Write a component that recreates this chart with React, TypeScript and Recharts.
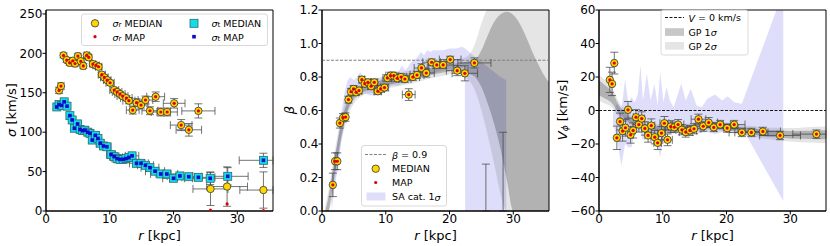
import React from "react";
import {
  ComposedChart, Scatter, Area, XAxis, YAxis, ErrorBar,
  ReferenceLine, ReferenceArea,
} from "recharts";

// Radial bins (kpc) shared by the beta and V_phi profiles
const rBins = [1.7, 2.05, 2.4, 2.8, 3.3, 3.7, 4.15, 4.55, 4.95, 5.35, 5.8, 6.25, 6.7, 7.2, 7.7, 8.2, 8.75, 9.2, 9.8, 10.25,
  10.75, 11.25, 11.8, 12.4, 13.0, 13.6, 14.25, 14.9, 15.6, 16.35, 17.2, 18.0, 19.0, 20.1, 21.2, 22.4, 23.9, 25.7, 28.4, 34.1];
// half bin widths; the last bar runs off the frame, so only its visible part is kept
const rBinHalfWidth = [0.2, 0.2, 0.2, 0.25, 0.25, 0.3, 0.3, 0.3, 0.35, 0.35, 0.4, 0.4, 0.45, 0.5, 0.5, 0.55, 0.6, 0.6, 0.65, 0.7,
  0.75, 0.8, 0.85, 0.9, 0.95, 1.0, 1.05, 1.1, 1.15, 1.25, 1.4, 1.5, 1.6, 1.7, 1.7, 2.0, 2.6, 2.75, 3.2, [3.7, 1.5]];

// sigma_r (km/s)
const rSigmaR = [2.05, 2.35, 2.75, 3.25, 3.7, 4.2, 4.55, 5.0, 5.45, 5.85, 6.4, 6.7, 7.35, 7.85, 8.25, 8.75, 9.15, 9.6, 10.05, 10.7,
  11.15, 11.6, 12.0, 12.6, 13.0, 13.6, 14.2, 14.9, 15.6, 16.3, 17.2, 18.0, 19.0, 20.1, 21.2, 22.4, 23.9, 25.8, 28.4, 34.1];
const sigmaRMedian = [153, 158.5, 197.4, 191.5, 188, 190.6, 187, 196.5, 190, 184, 197.5, 195, 186.4, 184.7, 183, 173, 169.5, 166, 162.7, 153.5,
  151, 148.4, 145.8, 143.3, 140, 128, 137.4, 134.4, 140.8, 127.2, 145, 125.6, 125.6, 136.6, 109, 103, 127, 28, 31, 26.6];
const sigmaRMap = [153, 158.5, 197.4, 191.5, 188, 190.6, 187, 196.5, 190, 184, 197.5, 195, 186.4, 184.7, 183, 173, 169.5, 166, 162.7, 153.5,
  151, 148.4, 145.8, 143.3, 140, 128, 137.4, 134.4, 140.8, 127.2, 145, 125.6, 125.6, 136.6, 109, 103, 127, 1, 9, 0.5];
const sigmaRErr = [4, 4, 3, 3, 3, 3, 3, 3, 3, 3, 3, 3, 3, 3, 3, 3, 3, 3, 3, 3,
  3, 3, 3, 3, 4, 5, 5, 5, 5, 5, 6, 5, 5, 6, 7, 8, 9, 21, 25, 23];

// sigma_t (km/s)
const rSigmaT = [1.7, 2.05, 2.45, 2.85, 3.3, 3.75, 4.1, 4.45, 4.95, 5.35, 5.75, 6.1, 6.55, 6.9, 7.25, 7.75, 8.15, 8.5, 9.0, 9.55,
  10.2, 10.7, 11.15, 11.6, 12.1, 12.55, 13.0, 13.5, 14.2, 14.9, 15.6, 16.3, 17.1, 18.0, 18.95, 20.0, 21.0, 22.4, 23.9, 25.75, 28.5, 34.1];
const sigmaTMedian = [132, 135, 134, 138.5, 133, 121, 115.5, 105, 110.5, 103.5, 102, 102.5, 100, 98.5, 90, 96, 92, 86, 82.5, 81.5,
  71.5, 69, 66.5, 65.5, 65.5, 66.5, 68, 70, 60.5, 60.5, 58, 55, 50.5, 47, 47, 41.5, 44.5, 43.5, 42.7, 41.5, 44, 64.3];
const sigmaTMap = [132, 135, 134, 138.5, 133, 121, 115.5, 105, 110.5, 103.5, 102, 102.5, 100, 98.5, 90, 96, 92, 86, 82.5, 81.5,
  71.5, 69, 66.5, 65.5, 65.5, 66.5, 68, 70, 60.5, 60.5, 58, 55, 50.5, 47, 47, 41.5, 44.5, 43.5, 42.7, 41.5, 44, 64.3];
const sigmaTRErr = [0.2, 0.2, 0.2, 0.25, 0.25, 0.3, 0.3, 0.3, 0.35, 0.35, 0.4, 0.4, 0.45, 0.45, 0.5, 0.5, 0.55, 0.6, 0.6, 0.65,
  0.7, 0.75, 0.8, 0.85, 0.9, 0.95, 1.0, 1.05, 1.1, 1.15, 1.25, 1.4, 1.5, 1.6, 1.7, 1.7, 2.0, 2.0, 2.6, 2.75, 3.2, [3.8, 1.5]];
const sigmaTErr = [3, 3, 3, 3, 3, 3, 3, 3, 3, 3, 3, 3, 3, 3, 3, 3, 3, 3, 3, 3,
  3, 3, 3, 3, 3, 3, 3, 3, 3, 3, 3, 3, 3, 3, 3, 3, 3, 3, 4, 8, 11, 9];

// anisotropy beta (the three outermost bins fall below 0: only their error bar tops show)
const betaMedian = [0.156, 0.297, 0.297, 0.525, 0.557, 0.561, 0.665, 0.712, 0.729, 0.709, 0.719, 0.784, 0.76, 0.768, 0.745, 0.768, 0.715, 0.729, 0.737, 0.794,
  0.808, 0.808, 0.792, 0.8, 0.788, 0.695, 0.8, 0.812, 0.854, 0.824, 0.888, 0.872, 0.872, 0.904, 0.838, 0.822, 0.884];
const betaMap = [0.156, 0.297, 0.297, 0.525, 0.557, 0.561, 0.665, 0.712, 0.729, 0.709, 0.719, 0.784, 0.76, 0.768, 0.745, 0.768, 0.715, 0.729, 0.737, 0.794,
  0.808, 0.808, 0.792, 0.8, 0.788, 0.695, 0.8, 0.812, 0.854, 0.824, 0.888, 0.872, 0.872, 0.904, 0.838, 0.822, 0.884];
const betaErr = [0.07, 0.05, 0.05, 0.03, 0.025, 0.025, 0.02, 0.02, 0.02, 0.02, 0.02, 0.02, 0.02, 0.02, 0.02, 0.02, 0.02, 0.02, 0.02, 0.02,
  0.02, 0.02, 0.02, 0.02, 0.02, 0.035, 0.02, 0.02, 0.025, 0.025, 0.02, 0.02, 0.02, 0.02, 0.03, 0.045, 0.03];
const rBetaOffScale = [25.7, 28.4];
const betaErrTop = [0.28, 0.47];

// V_phi (km/s)
const vphiMedian = [18.3, 15.9, 28.3, -16.3, -6.6, -12.3, -10.3, 0.4, -14.5, -11.9, -4, -8.4, -4.8, -10.7, -14.9, -9, -15.9, -19.3, -13.5, -7.6,
  -17.5, -9.6, -10, -8.4, -11.5, -12.9, -11.9, -10.9, -5.2, -9.4, -7.2, -10.1, -8.4, -10.5, -8.4, -13.1, -13.1, -12.5, -14.9, -14.1];
const vphiMap = [18.3, 15.9, 28.3, -16.3, -6.6, -12.3, -10.3, 0.4, -14.5, -11.9, -4, -8.4, -4.8, -10.7, -14.9, -9, -15.9, -19.3, -13.5, -7.6,
  -17.5, -9.6, -10, -8.4, -11.5, -12.9, -11.9, -10.9, -5.2, -9.4, -7.2, -10.1, -8.4, -10.5, -8.4, -13.1, -13.1, -12.5, -14.9, -14.1];
const vphiErr = [7.5, 7, 6.5, 7, 5, 6, 5, 5, 5, 4.5, 4.5, 4.5, 4, 4, 4, 4, 4, 4, 4, 4,
  3.5, 3.5, 3, 3, 3, 3, 3, 3, 3, 3, 3, 2.5, 2.5, 2.5, 2.5, 2.5, 2.5, 2.5, 2.5, 2.5];

// GP bands for beta
const gpBetaR = [0.5, 1, 1.5, 2, 2.5, 3, 3.5, 4, 5, 6, 7, 8, 10, 12, 14, 16, 18, 20, 21, 22, 23, 24, 25, 26, 27, 28, 29, 30, 31, 32, 33, 34, 35, 35.6];
const gpBeta1Lo = [0, 0, 0.1, 0.22, 0.33, 0.44, 0.52, 0.59, 0.665, 0.7, 0.72, 0.725, 0.75, 0.765, 0.78, 0.8, 0.82, 0.835, 0.84, 0.835,
  0.82, 0.8, 0.74, 0.64, 0.52, 0.37, 0.18, 0, 0, 0, 0, 0, 0, 0];
const gpBeta1Hi = [0, 0.08, 0.2, 0.32, 0.43, 0.52, 0.6, 0.65, 0.715, 0.74, 0.76, 0.765, 0.79, 0.805, 0.82, 0.84, 0.86, 0.875, 0.88, 0.885,
  0.895, 0.905, 0.96, 1.05, 1.13, 1.175, 1.19, 1.17, 1.12, 1.04, 0.95, 0.87, 0.8, 0.77];
const gpBeta2Lo = [0, 0, 0.06, 0.18, 0.29, 0.4, 0.49, 0.56, 0.64, 0.68, 0.7, 0.705, 0.73, 0.745, 0.76, 0.78, 0.8, 0.815, 0.82, 0.81,
  0.78, 0.72, 0.6, 0.45, 0.28, 0.1, 0, 0, 0, 0, 0, 0, 0, 0];
const gpBeta2Hi = [0.03, 0.12, 0.24, 0.36, 0.47, 0.56, 0.63, 0.68, 0.74, 0.76, 0.78, 0.785, 0.81, 0.825, 0.84, 0.86, 0.88, 0.895, 0.9, 0.91,
  0.93, 1.0, 1.12, 1.2, 1.2, 1.2, 1.2, 1.2, 1.2, 1.2, 1.2, 1.2, 1.2, 1.2];

// SA catalogue 1-sigma band for beta
const saBetaR = [1.5, 2.0, 2.5, 3.0, 3.5, 4.0, 4.5, 5.0, 5.5, 6.0, 6.5, 7.0, 7.5, 8.0, 8.5, 9.0, 9.5, 10.0, 10.5, 11.0, 11.5, 12.0, 12.5,
  13.0, 13.5, 14.0, 14.5, 15.0, 15.5, 16.0, 16.5, 17.0, 17.5, 18.0, 19.0, 20.0, 21.0, 22.0, 22.4, 22.45, 24.0, 25.0, 26.0, 27.0, 28.0, 28.9];
const saBetaHi = [0.12, 0.3, 0.42, 0.58, 0.7, 0.78, 0.8, 0.78, 0.8, 0.83, 0.8, 0.79, 0.78, 0.79, 0.77, 0.78, 0.8, 0.81, 0.83, 0.84, 0.82, 0.83, 0.87,
  0.84, 0.86, 0.89, 0.9, 0.92, 0.95, 0.93, 0.96, 0.95, 0.96, 0.96, 0.96, 0.97, 0.97, 0.98, 0.97, 0.97, 0.92, 0.89, 0.86, 0.83, 0.8, 0.78];
const saBetaLo = [0, 0.15, 0.25, 0.42, 0.52, 0.6, 0.66, 0.68, 0.69, 0.7, 0.7, 0.7, 0.69, 0.69, 0.69, 0.7, 0.71, 0.73, 0.74, 0.75, 0.75, 0.75, 0.76,
  0.76, 0.77, 0.77, 0.78, 0.79, 0.8, 0.8, 0.81, 0.82, 0.82, 0.83, 0.84, 0.85, 0.85, 0.86, 0.86, 0, 0, 0, 0, 0, 0, 0];

// GP bands for V_phi
const gpVphiR = [0, 1, 2, 3, 4, 5, 6, 8, 10, 12, 14, 16, 18, 20, 22, 24, 26, 28, 30, 32, 34, 35.6];
const gpVphi1Lo = [9, 7, 4.5, -1, -5, -7.8, -9.6, -11.5, -12.5, -12.5, -12, -11, -10.5, -11.5, -13.1, -14.2, -15.3, -16, -16.7, -16.9, -17.1, -17.2];
const gpVphi1Hi = [18, 15, 11.5, 4, -1, -4.2, -6.4, -8.5, -9.5, -9.5, -9, -8, -7.5, -8.5, -9.9, -10.8, -11.7, -12, -12.3, -12.1, -11.9, -11.8];
const gpVphi2Lo = [6, 4, 2, -3, -6.8, -9.3, -11, -12.8, -13.8, -13.8, -13.3, -12.3, -11.8, -12.8, -14.5, -15.7, -16.9, -17.7, -18.5, -18.9, -19.3, -19.5];
const gpVphi2Hi = [21, 18, 14, 6, 0.8, -2.7, -5, -7.2, -8.2, -8.2, -7.7, -6.7, -6.2, -7.2, -8.5, -9.3, -10.1, -10.3, -10.5, -10.1, -9.7, -9.5];

// SA catalogue 1-sigma band for V_phi
const saVphiR = [2.2, 2.8, 3.5, 4.1, 4.6, 5.1, 5.6, 6.1, 6.5, 6.9, 7.5, 8.1, 8.7, 9.2, 9.6, 10.1, 10.6, 11.1, 11.7, 12.3,
  12.9, 13.6, 14.4, 15.3, 16.1, 17.0, 18.2, 19.3, 20.2, 21.2, 22.4, 28.9];
const saVphiHi = [-2, 4, 0, 19, 4, 8, 5, 10, 27, 6, 22, 6, 16, 3, 23, 5, 14, 6, 2, 9,
  16, 6, 13, 3, 2, 7, 9.5, 6, 8.5, 5, 4, 71];
const saVphiLo = [-8, -16, -33, -20, -22, -22, -14, -13, -13, -18, -12, -14, -17, -20, -28, -16, -12, -14, -12, -13,
  -14, -15, -13, -14, -13, -13, -14, -13, -13, -12, -10, -54];

const xTicks = [0, 10, 20, 30];
const sigmaTicks = [0, 50, 100, 150, 200, 250];
const betaTicks = [0, 0.2, 0.4, 0.6, 0.8, 1.0, 1.2];
const vphiTicks = [-60, -40, -20, 0, 20, 40, 60];

const R_MAX = 35.6;
const TICK = { fontSize: 12, fill: "#000" };
const ERR = "rgba(70,70,70,0.75)";
const SA_FILL = "#3030e0";

const pts = (rs: number[], ys: number[], ex: any[], ey: any[]) =>
  rs.map((r, i) => ({ r, y: ys[i], ex: ex[i], ey: ey[i] }));
const band = (rs: number[], lo: number[], hi: number[]) =>
  rs.map((r, i) => ({ r, band: [lo[i], hi[i]] }));

const MedianCircle = (p: any) => <circle cx={p.cx} cy={p.cy} r={3.7} fill="#ffd700" stroke="#333" strokeWidth={0.8} />;
const MapDot = (p: any) => <circle cx={p.cx} cy={p.cy} r={1.6} fill="#dd0000" />;
const MedianSquare = (p: any) => <rect x={p.cx - 4} y={p.cy - 4} width={8} height={8} fill="#14dce8" stroke="#2d6a70" strokeWidth={0.8} />;
const MapSquare = (p: any) => <rect x={p.cx - 1.8} y={p.cy - 1.8} width={3.6} height={3.6} fill="#0a0ad0" />;
const NoMarker = () => <g />;

const minus = (v: number) => (v < 0 ? `\u2212${-v}` : `${v}`);

const xAxis = () => (
  <XAxis type="number" dataKey="r" domain={[0, R_MAX]} ticks={xTicks} allowDataOverflow interval={0}
    height={35} stroke="#000" tickSize={3.5} tickMargin={0} tick={TICK} />
);

const errBars = () => [
  <ErrorBar key="ex" dataKey="ex" direction="x" width={4} stroke={ERR} strokeWidth={1} />,
  <ErrorBar key="ey" dataKey="ey" direction="y" width={4} stroke={ERR} strokeWidth={1} />,
];

function SigmaPanel() {
  return (
    <ComposedChart width={280} height={246} margin={{ top: 10, right: 7, bottom: 0, left: 0 }}>
      {xAxis()}
      <YAxis type="number" dataKey="y" domain={[0, 255]} ticks={sigmaTicks} allowDataOverflow interval={0}
        width={46} stroke="#000" tickSize={3.5} tickMargin={0} tick={TICK} />
      <Scatter data={pts(rSigmaR, sigmaRMedian, rBinHalfWidth, sigmaRErr)} shape={MedianCircle} isAnimationActive={false}>
        {errBars()}
      </Scatter>
      <Scatter data={pts(rSigmaR, sigmaRMap, rBinHalfWidth, sigmaRErr)} shape={MapDot} isAnimationActive={false} />
      <Scatter data={pts(rSigmaT, sigmaTMedian, sigmaTRErr, sigmaTErr)} shape={MedianSquare} isAnimationActive={false}>
        {errBars()}
      </Scatter>
      <Scatter data={pts(rSigmaT, sigmaTMap, sigmaTRErr, sigmaTErr)} shape={MapSquare} isAnimationActive={false} />
      <ReferenceArea x1={0} x2={R_MAX} y1={0} y2={255} fill="none" stroke="#000" strokeWidth={1} />
    </ComposedChart>
  );
}

function BetaPanel() {
  const rIn = rBins.slice(0, betaMedian.length);
  const offScale = rBetaOffScale.map((r, i) => ({ r, y: 0, ey: [0, betaErrTop[i]] }));
  return (
    <ComposedChart width={280} height={246} margin={{ top: 10, right: 11, bottom: 0, left: 0 }}>
      {xAxis()}
      <YAxis type="number" dataKey="y" domain={[0, 1.2]} ticks={betaTicks} allowDataOverflow interval={0}
        width={42} stroke="#000" tickSize={3.5} tickMargin={0} tick={TICK} tickFormatter={(v: number) => v.toFixed(1)} />
      <Area data={band(saBetaR, saBetaLo, saBetaHi)} dataKey="band" type="linear" stroke="none"
        fill={SA_FILL} fillOpacity={0.16} isAnimationActive={false} />
      <Area data={band(gpBetaR, gpBeta2Lo, gpBeta2Hi)} dataKey="band" type="monotone" stroke="none"
        fill="#000" fillOpacity={0.1} isAnimationActive={false} />
      <Area data={band(gpBetaR, gpBeta1Lo, gpBeta1Hi)} dataKey="band" type="monotone" stroke="none"
        fill="#000" fillOpacity={0.22} isAnimationActive={false} />
      <ReferenceLine y={0.9} stroke="#808080" strokeWidth={1.2} strokeDasharray="3 1.5" />
      <Scatter data={offScale} shape={NoMarker} isAnimationActive={false}>
        <ErrorBar dataKey="ey" direction="y" width={4} stroke={ERR} strokeWidth={1} />
      </Scatter>
      <Scatter data={pts(rIn, betaMedian, rBinHalfWidth, betaErr)} shape={MedianCircle} isAnimationActive={false}>
        {errBars()}
      </Scatter>
      <Scatter data={pts(rIn, betaMap, rBinHalfWidth, betaErr)} shape={MapDot} isAnimationActive={false} />
      <ReferenceArea x1={0} x2={R_MAX} y1={0} y2={1.2} fill="none" stroke="#000" strokeWidth={1} />
    </ComposedChart>
  );
}

function VphiPanel() {
  return (
    <ComposedChart width={270} height={246} margin={{ top: 10, right: 4, bottom: 0, left: 0 }}>
      {xAxis()}
      <YAxis type="number" dataKey="y" domain={[-60, 60]} ticks={vphiTicks} allowDataOverflow interval={0}
        width={39} stroke="#000" tickSize={3.5} tickMargin={0} tick={TICK} tickFormatter={minus} />
      <Area data={band(saVphiR, saVphiLo, saVphiHi)} dataKey="band" type="linear" stroke="none"
        fill={SA_FILL} fillOpacity={0.16} isAnimationActive={false} />
      <Area data={band(gpVphiR, gpVphi2Lo, gpVphi2Hi)} dataKey="band" type="monotone" stroke="none"
        fill="#000" fillOpacity={0.1} isAnimationActive={false} />
      <Area data={band(gpVphiR, gpVphi1Lo, gpVphi1Hi)} dataKey="band" type="monotone" stroke="none"
        fill="#000" fillOpacity={0.22} isAnimationActive={false} />
      <ReferenceLine y={0} stroke="#000" strokeWidth={0.9} strokeDasharray="3 1.5" />
      <Scatter data={pts(rBins, vphiMedian, rBinHalfWidth, vphiErr)} shape={MedianCircle} isAnimationActive={false}>
        {errBars()}
      </Scatter>
      <Scatter data={pts(rBins, vphiMap, rBinHalfWidth, vphiErr)} shape={MapDot} isAnimationActive={false} />
      <ReferenceArea x1={0} x2={R_MAX} y1={-60} y2={60} fill="none" stroke="#000" strokeWidth={1} />
    </ComposedChart>
  );
}

// axis titles and legends, drawn over the three panels
function Annotations() {
  const lg = { fontSize: 9.5, dominantBaseline: "central" as const };
  const ttl = { fontSize: 13, textAnchor: "middle" as const, dominantBaseline: "central" as const };
  const box = { fill: "#fff", fillOpacity: 0.8, stroke: "#cfcfcf", strokeWidth: 0.8, rx: 2.5 };
  return (
    <svg width={830} height={246} style={{ position: "absolute", left: 0, top: 0, pointerEvents: "none" }}>
      <text x={159.5} y={235} {...ttl}><tspan fontStyle="italic">r</tspan> [kpc]</text>
      <text x={435.5} y={235} {...ttl}><tspan fontStyle="italic">r</tspan> [kpc]</text>
      <text x={712.5} y={235} {...ttl}><tspan fontStyle="italic">r</tspan> [kpc]</text>
      <text transform="translate(11,110) rotate(-90)" {...ttl}><tspan fontStyle="italic">σ</tspan> [km/s]</text>
      <text transform="translate(289,110) rotate(-90)" {...ttl}><tspan fontStyle="italic">β</tspan></text>
      <text transform="translate(562,110) rotate(-90)" {...ttl}>
        <tspan fontStyle="italic">V</tspan><tspan fontStyle="italic" fontSize={9} dy={3}>ϕ</tspan><tspan dy={-3}> [km/s]</tspan>
      </text>

      {/* sigma legend */}
      <rect x={81.5} y={14} width={186} height={31.5} {...box} />
      <circle cx={95} cy={23.3} r={3.7} fill="#ffd700" stroke="#333" strokeWidth={0.8} />
      <text x={112.5} y={23.3} {...lg}><tspan fontStyle="italic">σ</tspan><tspan fontSize={7} dy={2}>r</tspan><tspan dy={-2}> MEDIAN</tspan></text>
      <circle cx={95} cy={36.7} r={1.6} fill="#dd0000" />
      <text x={112.5} y={36.7} {...lg}><tspan fontStyle="italic">σ</tspan><tspan fontSize={7} dy={2}>r</tspan><tspan dy={-2}> MAP</tspan></text>
      <rect x={190} y={19.3} width={8} height={8} fill="#14dce8" stroke="#2d6a70" strokeWidth={0.8} />
      <text x={211.5} y={23.3} {...lg}><tspan fontStyle="italic">σ</tspan><tspan fontSize={7} dy={2}>t</tspan><tspan dy={-2}> MEDIAN</tspan></text>
      <rect x={192.2} y={34.9} width={3.6} height={3.6} fill="#0a0ad0" />
      <text x={211.5} y={36.7} {...lg}><tspan fontStyle="italic">σ</tspan><tspan fontSize={7} dy={2}>t</tspan><tspan dy={-2}> MAP</tspan></text>

      {/* beta legend */}
      <rect x={361.5} y={145.5} width={85} height={60.5} {...box} />
      <line x1={365} x2={386} y1={154.5} y2={154.5} stroke="#808080" strokeWidth={1.2} strokeDasharray="3 1.5" />
      <text x={392} y={154.5} {...lg}><tspan fontStyle="italic">β</tspan> = 0.9</text>
      <circle cx={375.7} cy={168.7} r={3.7} fill="#ffd700" stroke="#333" strokeWidth={0.8} />
      <text x={392} y={168.7} {...lg}>MEDIAN</text>
      <circle cx={375.7} cy={182.5} r={1.6} fill="#dd0000" />
      <text x={392} y={182.5} {...lg}>MAP</text>
      <rect x={366.5} y={192.5} width={19} height={8} fill={SA_FILL} fillOpacity={0.16} />
      <text x={392} y={196.5} {...lg}>SA cat. 1<tspan fontStyle="italic">σ</tspan></text>

      {/* V_phi legend */}
      <rect x={661} y={10} width={87} height={45} {...box} />
      <line x1={665} x2={684} y1={17.5} y2={17.5} stroke="#000" strokeWidth={0.9} strokeDasharray="3 1.5" />
      <text x={688.5} y={17.5} {...lg}><tspan fontStyle="italic">V</tspan> = 0 km/s</text>
      <rect x={665} y={28.2} width={19} height={7.7} fill="#000" fillOpacity={0.22} />
      <text x={688.5} y={32} {...lg}>GP 1<tspan fontStyle="italic">σ</tspan></text>
      <rect x={665} y={42} width={19} height={7.7} fill="#000" fillOpacity={0.1} />
      <text x={688.5} y={46} {...lg}>GP 2<tspan fontStyle="italic">σ</tspan></text>
    </svg>
  );
}

export default function App() {
  return (
    <div style={{ position: "absolute", left: 0, top: 0, width: 830, height: 246, background: "#fff",
      fontFamily: "'DejaVu Sans', sans-serif" }}>
      <div style={{ position: "absolute", left: 0, top: 0 }}><SigmaPanel /></div>
      <div style={{ position: "absolute", left: 280, top: 0 }}><BetaPanel /></div>
      <div style={{ position: "absolute", left: 560, top: 0 }}><VphiPanel /></div>
      <Annotations />
    </div>
  );
}
